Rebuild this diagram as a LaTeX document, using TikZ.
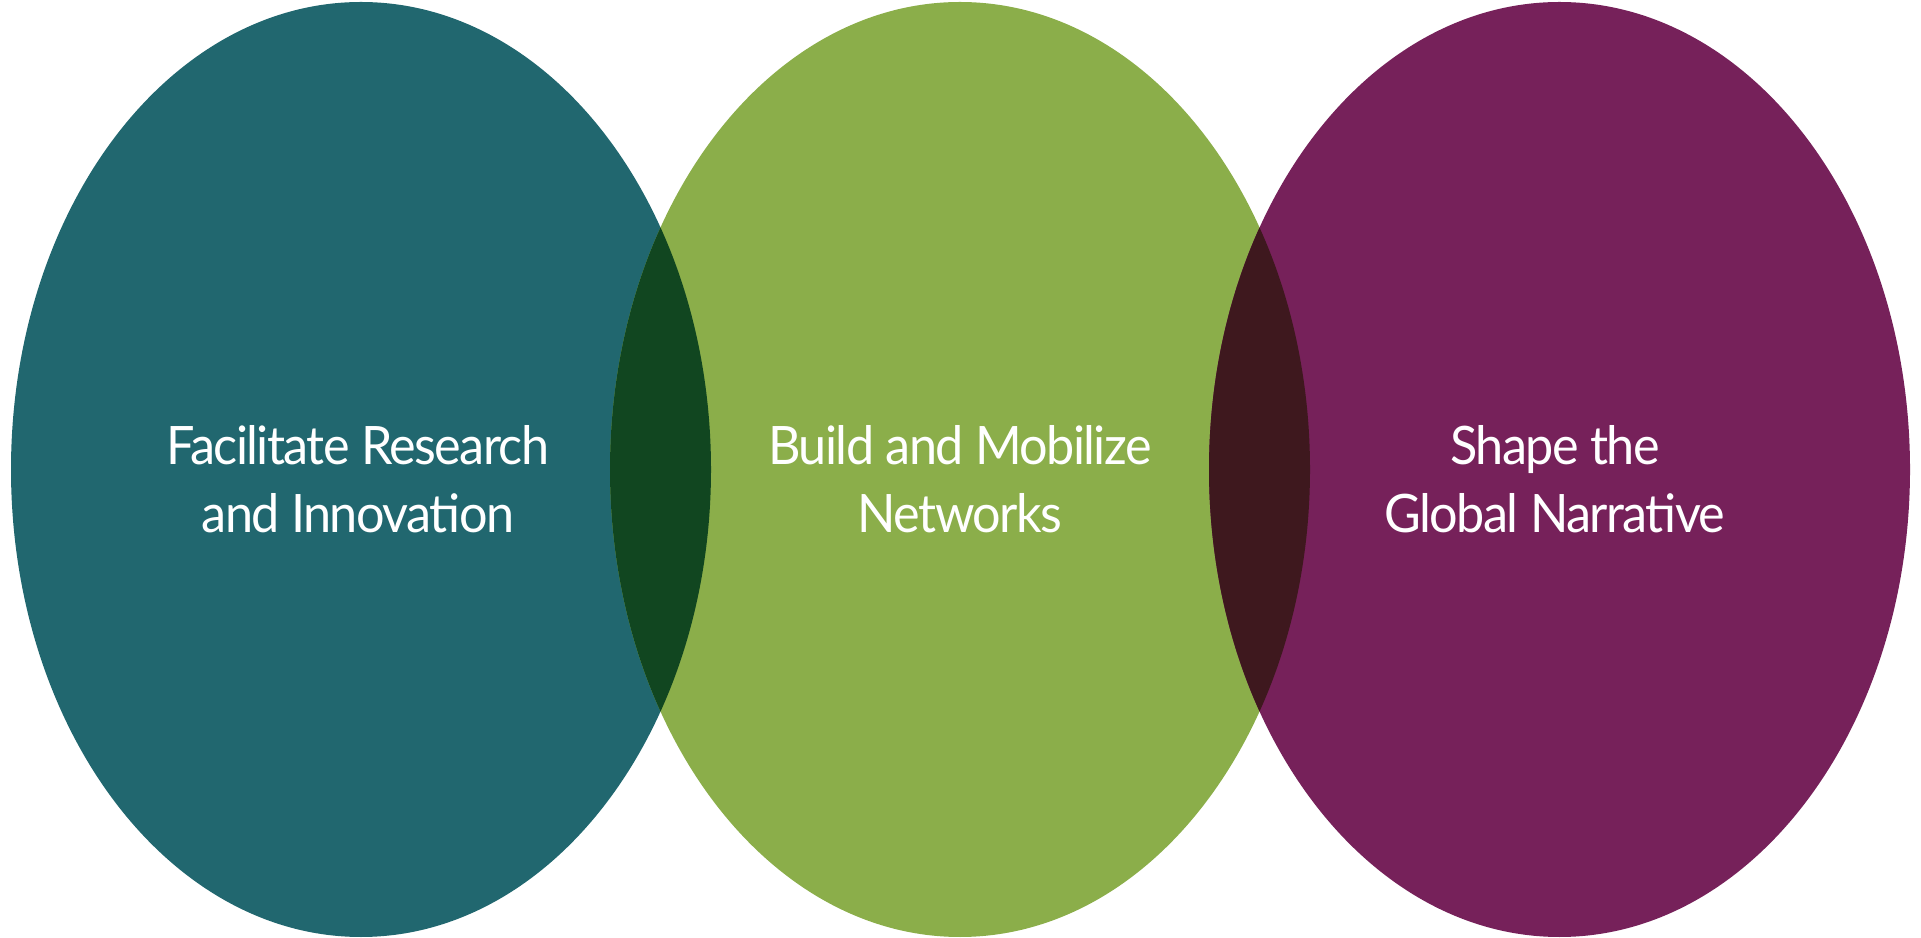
\documentclass[tikz,border=0pt]{standalone}
\usepackage{fontspec}
\setmainfont{Lato}[FakeStretch=0.95, LetterSpace=-3]
\definecolor{cteal}{RGB}{33,103,111}
\definecolor{cgreen}{RGB}{139,174,74}
\definecolor{cpurple}{RGB}{118,33,90}
\definecolor{covA}{RGB}{17,70,32}
\definecolor{covB}{RGB}{62,24,30}
\tikzset{
  lbl/.style={text=white, align=center, font=\fontsize{53}{68}\selectfont, inner sep=0pt, anchor=base},
}
\begin{document}
\begin{tikzpicture}[x=1pt,y=1pt]
\useasboundingbox (0,0) rectangle (1921,937);
\fill[cteal] (361,467.5) ellipse [x radius=350, y radius=467.5];
\fill[cgreen] (960,467.5) ellipse [x radius=350, y radius=467.5];
\fill[cpurple] (1559.5,467.5) ellipse [x radius=350.5, y radius=467.5];
\begin{scope}
  \clip (361,467.5) ellipse [x radius=350, y radius=467.5];
  \fill[covA] (960,467.5) ellipse [x radius=350, y radius=467.5];
\end{scope}
\begin{scope}
  \clip (960,467.5) ellipse [x radius=350, y radius=467.5];
  \fill[covB] (1559.5,467.5) ellipse [x radius=350.5, y radius=467.5];
\end{scope}
\node[lbl] (t1) at (358,404) {Facilitate Research\\and Innovation};
\node[lbl] (t2) at (960,404) {Build and Mobilize\\Networks};
\node[lbl] (t3) at (1555,404) {Shape the\\Global Narrative};
\end{tikzpicture}
\end{document}
